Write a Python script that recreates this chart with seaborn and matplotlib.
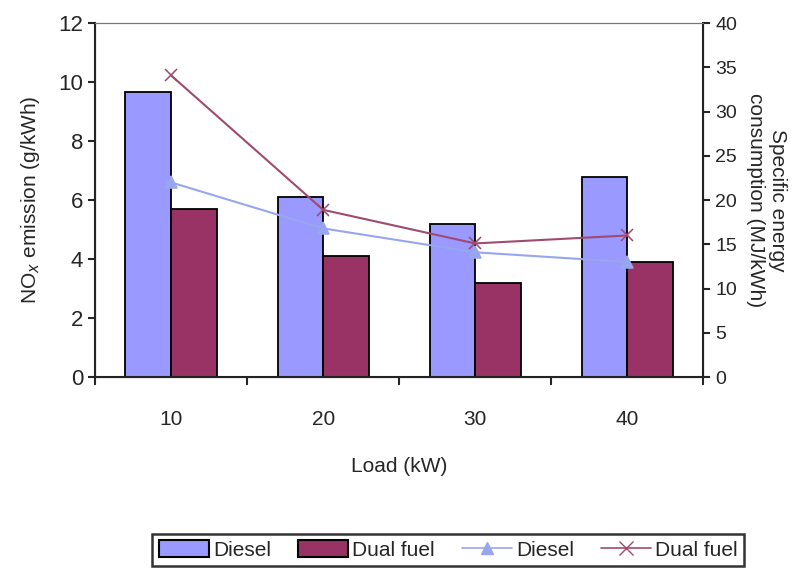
import matplotlib
matplotlib.use("Agg")
import matplotlib.pyplot as plt
import seaborn as sns
import pandas as pd
from matplotlib.patches import Patch
from matplotlib.lines import Line2D

# data
loads = ["10", "20", "30", "40"]
nox_diesel = [9.65, 6.1, 5.2, 6.8]
nox_dual = [5.7, 4.1, 3.2, 3.9]
sec_diesel = [22.0, 16.8, 14.1, 13.0]
sec_dual = [34.1, 18.9, 15.1, 16.0]

c_diesel = "#9999FF"
c_dual = "#993366"
c_line_diesel = "#98A6EE"
c_line_dual = "#A04A70"

sns.set_style("white")
plt.rcParams["font.family"] = ["Liberation Sans", "DejaVu Sans"]

bars = pd.DataFrame({
    "Load": loads * 2,
    "NOx": nox_diesel + nox_dual,
    "Fuel": ["Diesel"] * 4 + ["Dual fuel"] * 4,
})
lines = pd.DataFrame({
    "Load": loads * 2,
    "SEC": sec_diesel + sec_dual,
    "Fuel": ["Diesel"] * 4 + ["Dual fuel"] * 4,
})

fig = plt.figure(figsize=(7.92, 5.8), dpi=100)
ax = fig.add_axes([0.12, 0.35, 0.768, 0.61])

sns.barplot(data=bars, x="Load", y="NOx", hue="Fuel", order=loads,
            palette=[c_diesel, c_dual], saturation=1, width=0.6,
            edgecolor="black", linewidth=1.3, ax=ax, legend=False)
ax.set_ylim(0, 12)
ax.set_yticks(range(0, 13, 2))
ax.set_xlim(-0.5, 3.5)
ax.set_xlabel("Load (kW)", fontsize=15, labelpad=20)
ax.set_ylabel("NO$_x$ emission (g/kWh)", fontsize=15, labelpad=12)
ax.tick_params(axis="y", labelsize=16, length=5, width=1.5, direction="out", left=True)
ax.tick_params(axis="x", labelsize=15, length=0, pad=24)
# ticks between categories
ax.set_xticks([-0.5, 0.5, 1.5, 2.5, 3.5], minor=True)
ax.tick_params(axis="x", which="minor", length=6, width=1.5, direction="out", bottom=True)
for s in ["left", "bottom"]:
    ax.spines[s].set_color("#222222")
    ax.spines[s].set_linewidth(1.5)
ax.spines["top"].set_color("#777777")

ax2 = ax.twinx()
sns.pointplot(data=lines, x="Load", y="SEC", hue="Fuel", order=loads,
              palette=[c_line_diesel, c_line_dual], markers=["^", "x"],
              linestyles=["-", "-"], linewidth=1.5, markersize=9,
              ax=ax2, legend=False)
ax2.set_ylim(0, 40)
ax2.set_yticks(range(0, 41, 5))
ax2.set_xlim(-0.5, 3.5)
ax2.set_ylabel("Specific energy\nconsumption (MJ/kWh)", fontsize=15,
               rotation=270, labelpad=36)
ax2.tick_params(axis="y", labelsize=14, length=5, width=1.5, direction="out", right=True)
ax2.spines["right"].set_color("#222222")
ax2.spines["right"].set_linewidth(1.5)
ax2.spines["top"].set_color("#777777")

handles = [
    Patch(facecolor=c_diesel, edgecolor="black", linewidth=1.5),
    Patch(facecolor=c_dual, edgecolor="black", linewidth=1.5),
    Line2D([], [], color=c_line_diesel, marker="^", markersize=8, linewidth=1.2),
    Line2D([], [], color=c_line_dual, marker="x", markersize=10, linewidth=1.2),
]
labels = ["Diesel", "Dual fuel", "Diesel", "Dual fuel"]
leg = fig.legend(handles, labels, loc="center", bbox_to_anchor=(0.566, 0.052),
                 ncol=4, fontsize=15, frameon=True, fancybox=False,
                 handlelength=2.4, handleheight=0.9, handletextpad=0.2,
                 columnspacing=1.3, borderpad=0.3)
leg.get_frame().set_edgecolor("black")
leg.get_frame().set_linewidth(1.8)

fig.savefig("out.png", dpi=100)
